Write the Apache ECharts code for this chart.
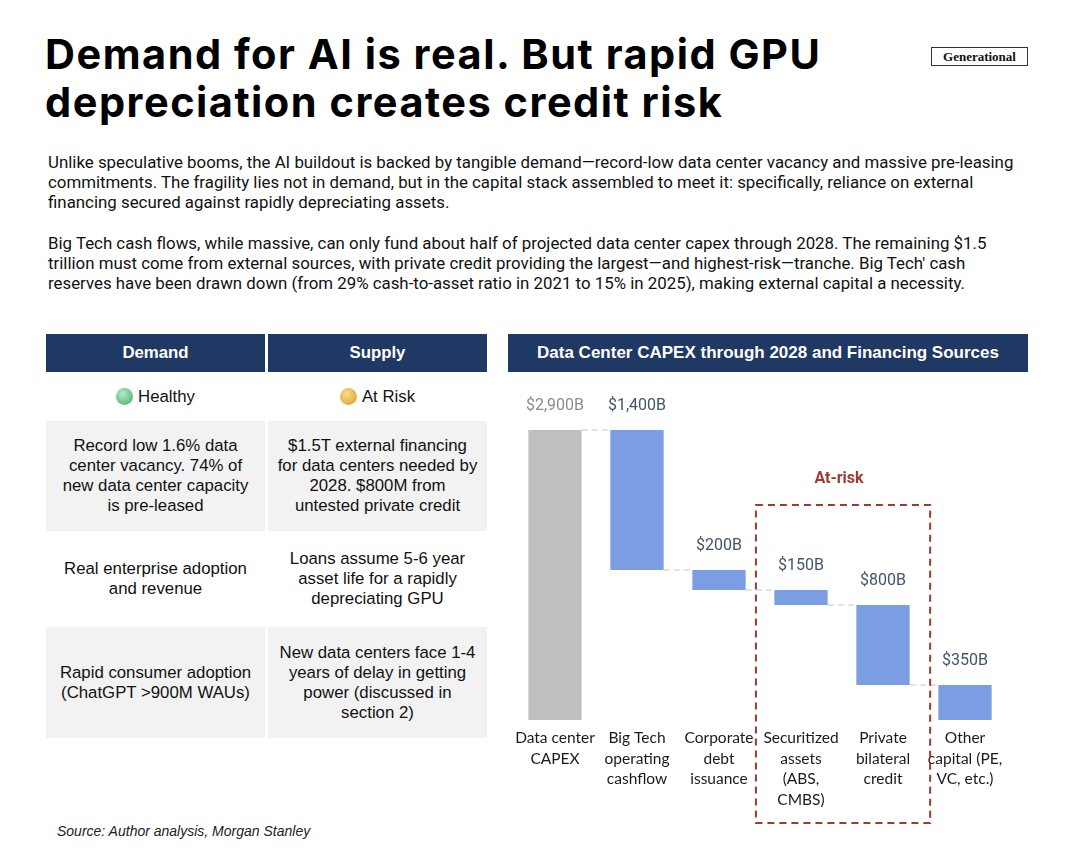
<!DOCTYPE html>
<html>
<head>
<meta charset="UTF-8">
<script src="https://cdn.jsdelivr.net/npm/echarts@6/dist/echarts.min.js"></script>
<style>
  body { margin:0; background:#fff; width:1066px; height:860px; position:relative; overflow:hidden; }
  .abs { position:absolute; }
  #title { left:45px; top:30px; font-family:Inter, sans-serif; font-weight:700; font-size:41.5px; line-height:48px; color:#000; white-space:nowrap; letter-spacing:1.5px; }
  #logo { left:931px; top:47px; width:95px; height:17px; border:1.5px solid #333; font-family:"Liberation Serif", serif; font-weight:bold; font-size:13px; line-height:17px; text-align:center; color:#111; }
  .para { left:48px; font-family:Roboto, sans-serif; font-size:16.85px; line-height:20px; color:#111; white-space:nowrap; }
  .cell { position:absolute; display:flex; align-items:center; justify-content:center; text-align:center; font-family:"Liberation Sans", Arial, sans-serif; font-size:16.8px; line-height:20px; color:#111; box-sizing:border-box; padding:0 8px; }
  .head { background:#1f3864; color:#fff; font-weight:bold; }
  .gray { background:#f2f2f2; }
  .dot { display:inline-block; width:17px; height:17px; border-radius:50%; margin-right:5px; vertical-align:-3px; }
  #source { left:57px; top:823px; font-family:"Liberation Sans", Arial, sans-serif; font-style:italic; font-size:14px; color:#222; }
  #chart { left:500px; top:380px; width:540px; height:460px; }
</style>
</head>
<body>
<div id="title" class="abs">Demand for AI is real. But rapid GPU<br>depreciation creates credit risk</div>
<div id="logo" class="abs">Generational</div>

<div class="abs para" style="top:152px">Unlike speculative booms, the AI buildout is backed by tangible demand—record-low data center vacancy and massive pre-leasing<br>commitments. The fragility lies not in demand, but in the capital stack assembled to meet it: specifically, reliance on external<br>financing secured against rapidly depreciating assets.</div>
<div class="abs para" style="top:233px">Big Tech cash flows, while massive, can only fund about half of projected data center capex through 2028. The remaining $1.5<br>trillion must come from external sources, with private credit providing the largest—and highest-risk—tranche. Big Tech' cash<br>reserves have been drawn down (from 29% cash-to-asset ratio in 2021 to 15% in 2025), making external capital a necessity.</div>

<div id="table"></div>
<div class="cell head" style="left:508px;top:334px;width:520px;height:38px;font-size:17px">Data Center CAPEX through 2028 and Financing Sources</div>

<div id="chart" class="abs"></div>
<div id="source" class="abs">Source: Author analysis, Morgan Stanley</div>

<script>
// table rows (demand / supply)
var tableHead = ['Demand', 'Supply'];
var tableStatus = ['Healthy', 'At Risk'];
var demandRows = ['Record low 1.6% data center vacancy. 74% of new data center capacity is pre-leased',
                  'Real enterprise adoption and revenue',
                  'Rapid consumer adoption (ChatGPT >900M WAUs)'];
var supplyRows = ['$1.5T external financing for data centers needed by 2028. $800M from untested private credit',
                  'Loans assume 5-6 year asset life for a rapidly depreciating GPU',
                  'New data centers face 1-4 years of delay in getting power (discussed in section 2)'];

// waterfall data
var categories = ['Data center\nCAPEX', 'Big Tech\noperating\ncashflow', 'Corporate\ndebt\nissuance',
                  'Securitized\nassets\n(ABS,\nCMBS)', 'Private\nbilateral\ncredit', 'Other\ncapital (PE,\nVC, etc.)'];
var values = [2900, 1400, 200, 150, 800, 350];
var valueLabels = ['$2,900B', '$1,400B', '$200B', '$150B', '$800B', '$350B'];
var atRiskIdx = [3, 4];

(function buildTable() {
  var host = document.getElementById('table');
  var cols = [46, 268], w = 219, pad = [10, 8];
  var rows = [[372, 421], [421, 531], [531, 627], [627, 738]];
  var html = '';
  for (var c = 0; c < 2; c++) {
    html += '<div class="cell head" style="left:' + cols[c] + 'px;top:334px;width:' + w + 'px;height:38px">' + tableHead[c] + '</div>';
    var grad = c === 0 ? 'radial-gradient(circle at 40% 35%, #b6ebc6, #5cc07e 70%, #3e9c60)'
                       : 'radial-gradient(circle at 40% 35%, #f7de8a, #e0b03a 70%, #b98a20)';
    html += '<div class="cell" style="left:' + cols[c] + 'px;top:372px;width:' + w + 'px;height:49px"><span class="dot" style="background:' + grad + '"></span>' + tableStatus[c] + '</div>';
    var list = c === 0 ? demandRows : supplyRows;
    for (var r = 0; r < list.length; r++) {
      var y0 = rows[r + 1][0], y1 = rows[r + 1][1];
      html += '<div class="cell' + (r % 2 === 0 ? ' gray' : '') + '" style="left:' + cols[c] + 'px;top:' + y0 + 'px;width:' + w + 'px;height:' + (y1 - y0) + 'px;padding:0 ' + pad[c] + 'px">' + list[r] + '</div>';
    }
  }
  host.innerHTML = html;
})();

var bases = [0];
var running = values[0];
for (var i = 1; i < values.length; i++) { running -= values[i]; bases.push(running); }

var myChart = echarts.init(document.getElementById('chart'));
var barFrac = 0.65;
var option = {
  animation: false,
  grid: { left: 14, right: 34, top: 50, bottom: 120 },
  xAxis: {
    type: 'category', data: categories,
    axisLine: { show: false }, axisTick: { show: false },
    axisLabel: { interval: 0, margin: 8, fontFamily: 'Lato', fontSize: 15.5, lineHeight: 20.5, color: '#1a1a1a' }
  },
  yAxis: { type: 'value', min: 0, max: 2900, show: false, splitLine: { show: false } },
  series: [
    {
      type: 'bar', stack: 'w', barWidth: (barFrac * 100) + '%', silent: true,
      itemStyle: { color: 'transparent' }, data: bases
    },
    {
      type: 'bar', stack: 'w', barWidth: (barFrac * 100) + '%',
      data: values.map(function (v, k) {
        return {
          value: v,
          itemStyle: { color: k === 0 ? '#bfbfbf' : '#7b9ee3' },
          label: { color: k === 0 ? '#8c8c8c' : '#44546a' }
        };
      }),
      label: {
        show: true, position: 'top', distance: 16, fontFamily: 'Roboto', fontSize: 16,
        formatter: function (p) { return valueLabels[p.dataIndex]; }
      },
      z: 3
    },
    {
      type: 'custom', z: 1, silent: true,
      data: values.slice(0, -1).map(function (v, k) { return [k, k === 0 ? values[0] : bases[k]]; }),
      encode: { x: 0, y: 1 },
      renderItem: function (params, api) {
        var k = api.value(0), lvl = api.value(1);
        var p1 = api.coord([k, lvl]), p2 = api.coord([k + 1, lvl]);
        var half = api.size([1, 0])[0] * barFrac / 2;
        return {
          type: 'line',
          shape: { x1: p1[0] + half, y1: p1[1], x2: p2[0] - half, y2: p2[1] },
          style: { stroke: '#d9d9d9', lineWidth: 1.5, lineDash: [6, 4] }
        };
      }
    }
  ]
};
myChart.setOption(option);

// dashed "At-risk" frame around the private-credit tranches
var pa = myChart.convertToPixel({ gridIndex: 0 }, [atRiskIdx[0], 0]);
var pb = myChart.convertToPixel({ gridIndex: 0 }, [atRiskIdx[1], 0]);
var band = pb[0] - pa[0];
var bx0 = pa[0] - band * 0.55, bx1 = pb[0] + band * 0.575;
var by0 = pa[1] - 215, by1 = pa[1] + 103;
myChart.setOption({
  graphic: [
    {
      type: 'rect', silent: true, z: 10,
      shape: { x: bx0, y: by0, width: bx1 - bx0, height: by1 - by0 },
      style: { fill: 'none', stroke: '#9e3b2f', lineWidth: 2, lineDash: [7, 5] }
    },
    {
      type: 'text', silent: true, z: 10,
      x: (bx0 + bx1) / 2 - 4, y: by0 - 26,
      style: { text: 'At-risk', fill: '#9e3b2f', font: 'bold 16px Roboto', align: 'center', verticalAlign: 'middle' }
    }
  ]
});
</script>
</body>
</html>
